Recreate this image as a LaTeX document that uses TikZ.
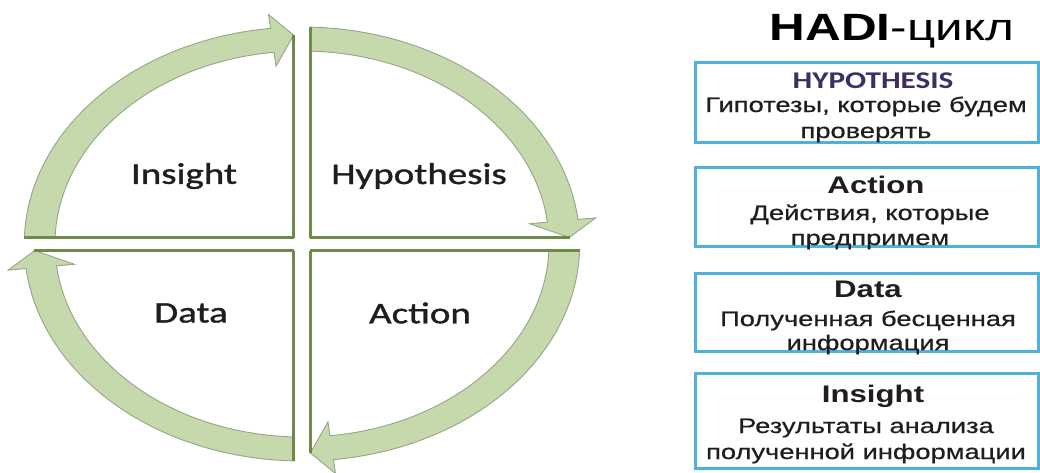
\documentclass[tikz,border=0pt]{standalone}
\usepackage{fontspec}
\newfontfamily\labfont[FakeStretch=1.3,FakeBold=1.2]{Carlito}
\newfontfamily\hypfont[FakeStretch=1.3]{Carlito}
\newfontfamily\rfont[FakeStretch=1.3,FakeBold=0.6]{Liberation Sans}
\newfontfamily\tfont[FakeStretch=1.3]{Liberation Sans}
\definecolor{bandcol}{RGB}{197,217,172}
\definecolor{bandedge}{RGB}{150,165,135}
\definecolor{divcol}{RGB}{110,138,72}
\definecolor{boxcol}{RGB}{80,178,220}
\definecolor{txtcol}{RGB}{30,30,30}
\definecolor{hypcol}{RGB}{62,46,98}
\tikzset{
  bandfill/.style={fill=bandcol,draw=bandedge,line width=0.9pt,line join=miter},
  divider/.style={draw=divcol,line width=2.4pt},
  qlabel/.style={font=\labfont\fontsize{30}{36}\selectfont,text=txtcol,inner sep=0pt},
  boxline/.style={draw=boxcol,line width=3pt},
  btitle/.style={font=\tfont\bfseries\fontsize{24}{28}\selectfont,text=txtcol,inner sep=0pt,anchor=base},
  btext/.style={font=\rfont\fontsize{21}{25}\selectfont,text=txtcol,inner sep=0pt,anchor=base},
}
\newcommand\hadiquad{%
  \filldraw[bandfill] (178.28:217) arc[start angle=178.28,end angle=96.5,radius=217]
     -- (96.5:231) -- (91.8:209) -- (96.5:179) -- (96.5:193)
     arc[start angle=96.5,end angle=178.07,radius=193] -- cycle;
  \draw[divider] (-6.5,6.5) -- (-216.9,6.5);
  \draw[divider] (-6.5,6.5) -- (-6.5,209);
}
\begin{document}
\begin{tikzpicture}[x=1pt,y=-1pt]
\useasboundingbox (0,0) rectangle (1040,472);
\fill[white] (0,0) rectangle (1040,472);
% cycle
\begin{scope}[shift={(302,244)},yscale=-1,xscale=1.28]
  \foreach \k in {0,1,2,3}{
    \begin{scope}[rotate=-90*\k]
      \hadiquad
    \end{scope}
  }
\end{scope}
\node[qlabel] (lins) at (184,176) {Insight};
\node[qlabel] (lhyp) at (419,176) {Hypothesis};
\node[qlabel] (ldat) at (191,313) {Data};
\node[qlabel] (lact) at (420,313) {Action};
% right side
\node[font=\tfont\fontsize{38}{42}\selectfont,text=black,inner sep=0pt,anchor=base] (title) at (892,40) {\textbf{HADI}-цикл};
\draw[boxline] (695,62) rectangle (1038,142);
\draw[boxline] (695,167) rectangle (1038,246);
\draw[boxline] (695,273) rectangle (1038,351);
\draw[boxline] (695,373) rectangle (1038,468);
\node[btitle,font=\hypfont\bfseries\fontsize{24}{28}\selectfont,text=hypcol] (h1) at (873,88) {HYPOTHESIS};
\node[btext] (h2) at (866,112) {Гипотезы, которые будем};
\node[btext] (h3) at (866,138) {проверять};
\node[btitle] (a1) at (876,193) {Action};
\node[btext] (a2) at (870,220) {Действия, которые};
\node[btext] (a3) at (870,245) {предпримем};
\node[btitle] (d1) at (868,297) {Data};
\node[btext] (d2) at (868,326) {Полученная бесценная};
\node[btext] (d3) at (868,350) {информация};
\node[btitle] (i1) at (873,402) {Insight};
\node[btext] (i2) at (866,433) {Результаты анализа};
\node[btext] (i3) at (866,459) {полученной информации};
\end{tikzpicture}
\end{document}
